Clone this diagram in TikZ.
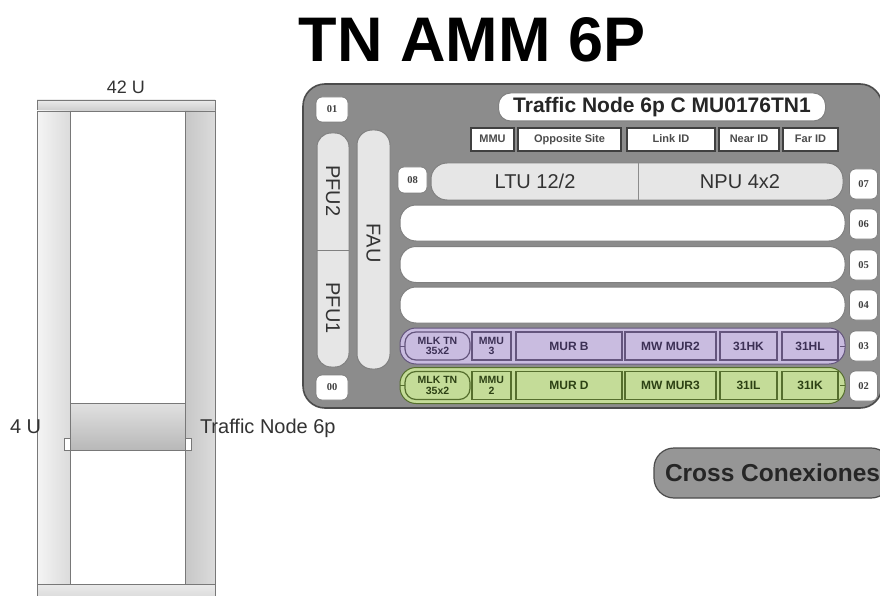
\documentclass[tikz,border=0pt]{standalone}
\usepackage{fontspec}
\setmainfont{Liberation Sans}
\newfontfamily\slotfont{Liberation Serif}
\definecolor{chassisgray}{RGB}{140,140,140}
\definecolor{pillgray}{RGB}{230,230,230}
\definecolor{ccgray}{RGB}{150,150,150}
\definecolor{purp}{RGB}{201,188,224}
\definecolor{purpdark}{RGB}{100,85,125}
\definecolor{purptext}{RGB}{60,48,85}
\definecolor{grn}{RGB}{196,220,152}
\definecolor{grndark}{RGB}{85,110,45}
\definecolor{grntext}{RGB}{45,65,20}
\definecolor{rackline}{RGB}{120,120,120}
\begin{document}
\begin{tikzpicture}[x=1pt,y=-1pt,
  every node/.style={inner sep=0pt, outer sep=0pt},
  chassis/.style={draw=black!70, line width=1.6pt, fill=chassisgray, rounded corners=22pt},
  slotnum/.style={draw=black!50, line width=0.8pt, fill=white, rounded corners=6pt,
    minimum width=28pt, minimum height=30pt,
    font=\slotfont\bfseries\fontsize{10.5}{10.5}\selectfont, text=black!75},
  pill/.style={draw=black!50, line width=1pt, fill=pillgray},
  rowpill/.style={draw=black!50, line width=1pt, fill=white, rounded corners=16pt,
    minimum width=445pt, minimum height=36pt},
  bigtext/.style={font=\fontsize{20}{20}\selectfont, text=black!80},
  hdr/.style={draw=black!75, line width=1.3pt, fill=white, minimum height=23pt,
    text height=8pt, text depth=2pt,
    font=\bfseries\fontsize{11}{11}\selectfont, text=black!70},
  pcell/.style={draw=purpdark, line width=1.2pt, fill=purp, minimum height=28pt,
    font=\bfseries\fontsize{12}{11}\selectfont, text=purptext, align=center},
  gcell/.style={draw=grndark, line width=1.2pt, fill=grn, minimum height=28pt,
    font=\bfseries\fontsize{12}{11}\selectfont, text=grntext, align=center},
  smallcell/.style={font=\bfseries\fontsize{10.5}{10.5}\selectfont},
  rackpart/.style={draw=rackline, line width=0.8pt}
]
\clip (0,0) rectangle (880,596);
\fill[white] (0,0) rectangle (880,596);

% title
\node[anchor=base, font=\bfseries\fontsize{63}{63}\selectfont] (title) at (472,62) {TN AMM 6P};

% ---------------- rack ----------------
\draw[rackpart, top color=white!92!black, bottom color=white!80!black] (37,100) rectangle (215,111);
\draw[rackpart, left color=white!96!black, right color=white!86!black] (37,111) rectangle (70,584);
\draw[rackpart, left color=white!78!black, right color=white!86!black] (185,111) rectangle (215,584);
\draw[rackpart, top color=white!92!black, bottom color=white!80!black] (37,584) rectangle (215,610);
\draw[rackpart, fill=white] (64,438) rectangle (70,450);
\draw[rackpart, fill=white] (185,438) rectangle (191,450);
\node[rackpart, top color=white!88!black, bottom color=white!72!black,
  minimum width=115pt, minimum height=47pt] (tnunit) at (127.5,427) {};
\node[anchor=base, font=\fontsize{18}{18}\selectfont, text=black!80] (lbl42) at (126,94) {42 U};
\node[anchor=base west, font=\fontsize{20}{20}\selectfont, text=black!80] (lbl4) at (10,433) {4 U};
\node[anchor=base west, font=\fontsize{20}{20}\selectfont, text=black!80] (lbltn) at (200,433) {Traffic Node 6p};

% ---------------- chassis ----------------
\node[chassis, minimum width=579pt, minimum height=324pt] (chassis) at (592.5,246) {};

\node[slotnum, minimum width=32pt, minimum height=25pt] (s01) at (332,109.5) {01};
\node[slotnum, minimum width=32pt, minimum height=25pt] (s00) at (332,387.5) {00};

% PFU
\node[pill, rounded corners=14pt, minimum width=32pt, minimum height=234pt] (pfu) at (333,250) {};
\draw[black!50, line width=1pt] (pfu.west) -- (pfu.east);
\node[bigtext, rotate=-90] (pfu2) at (333,191) {PFU2};
\node[bigtext, rotate=-90] (pfu1) at (333,308) {PFU1};

% FAU
\node[pill, rounded corners=15pt, minimum width=33pt, minimum height=239pt] (fau) at (373.5,249.5) {};
\node[bigtext, rotate=-90] (faut) at (373.5,243) {FAU};

% title pill
\node[draw=black!50, line width=1pt, fill=white, rounded corners=12pt,
  minimum width=327pt, minimum height=28pt,
  font=\bfseries\fontsize{21}{21}\selectfont, text=black!85] (tpill) at (662,107)
  {Traffic Node 6p C MU0176TN1};

% header
\node[hdr, minimum width=43pt] (hmmu) at (492.5,139.5) {MMU};
\node[hdr, minimum width=103pt] (hopp) at (569.5,139.5) {Opposite Site};
\node[hdr, minimum width=88pt] (hlink) at (671,139.5) {Link ID};
\node[hdr, minimum width=60pt] (hnear) at (749,139.5) {Near ID};
\node[hdr, minimum width=55pt] (hfar) at (810.5,139.5) {Far ID};

% slot 08/07
\node[slotnum, minimum width=29pt, minimum height=26pt] (s08) at (412.5,180) {08};
\node[pill, rounded corners=16pt, minimum width=412pt, minimum height=37pt] (ltunpu) at (637,181.5) {};
\coordinate (divx) at (638,0);
\draw[black!45, line width=1pt] (ltunpu.north -| divx) -- (ltunpu.south -| divx);
\node[bigtext] (ltu) at (535,181.5) {LTU 12/2};
\node[bigtext] (npu) at (740,181.5) {NPU 4x2};
\node[slotnum] (s07) at (863.5,184) {07};

% empty rows
\node[rowpill] (r06) at (622.5,223) {};
\node[slotnum] (s06) at (863.5,224) {06};
\node[rowpill] (r05) at (622.5,264.5) {};
\node[slotnum] (s05) at (863.5,265) {05};
\node[rowpill] (r04) at (622.5,305) {};
\node[slotnum] (s04) at (863.5,305) {04};

% row 03 (purple)
\node[rowpill, fill=purp, draw=purpdark] (r03) at (622.5,346) {};
\node[slotnum] (s03) at (863.5,346) {03};
\draw[purpdark, line width=0.8pt] (r03.west) -- ++(5,0);
\draw[purpdark, line width=0.8pt] (r03.east) -- ++(-5,0);
\node[pcell, smallcell, rounded corners=11pt, minimum width=65pt] (p1) at (437.5,346) {MLK TN\\35x2};
\node[pcell, smallcell, minimum width=39pt] (p2) at (491.5,346) {MMU\\3};
\node[pcell, minimum width=106pt] (p3) at (569,346) {MUR B};
\node[pcell, minimum width=91pt] (p4) at (670.5,346) {MW MUR2};
\node[pcell, minimum width=57pt] (p5) at (748.5,346) {31HK};
\node[pcell, minimum width=56pt] (p6) at (810,346) {31HL};

% row 02 (green)
\node[rowpill, fill=grn, draw=grndark] (r02) at (622.5,385.5) {};
\node[slotnum] (s02) at (863.5,386) {02};
\draw[grndark, line width=0.8pt] (r02.west) -- ++(5,0);
\draw[grndark, line width=0.8pt] (r02.east) -- ++(-5,0);
\node[gcell, smallcell, rounded corners=11pt, minimum width=65pt] (g1) at (437.5,385.5) {MLK TN\\35x2};
\node[gcell, smallcell, minimum width=39pt] (g2) at (491.5,385.5) {MMU\\2};
\node[gcell, minimum width=106pt] (g3) at (569,385.5) {MUR D};
\node[gcell, minimum width=91pt] (g4) at (670.5,385.5) {MW MUR3};
\node[gcell, minimum width=57pt] (g5) at (748.5,385.5) {31IL};
\node[gcell, minimum width=56pt] (g6) at (810,385.5) {31IK};

% cross conexiones
\node[draw=black!70, line width=1.2pt, fill=ccgray, rounded corners=20pt,
  minimum height=50pt, inner xsep=11pt, anchor=west,
  font=\bfseries\fontsize{24.5}{24.5}\selectfont, text=black!85] (cc) at (654,473) {Cross Conexiones};
\end{tikzpicture}
\end{document}
